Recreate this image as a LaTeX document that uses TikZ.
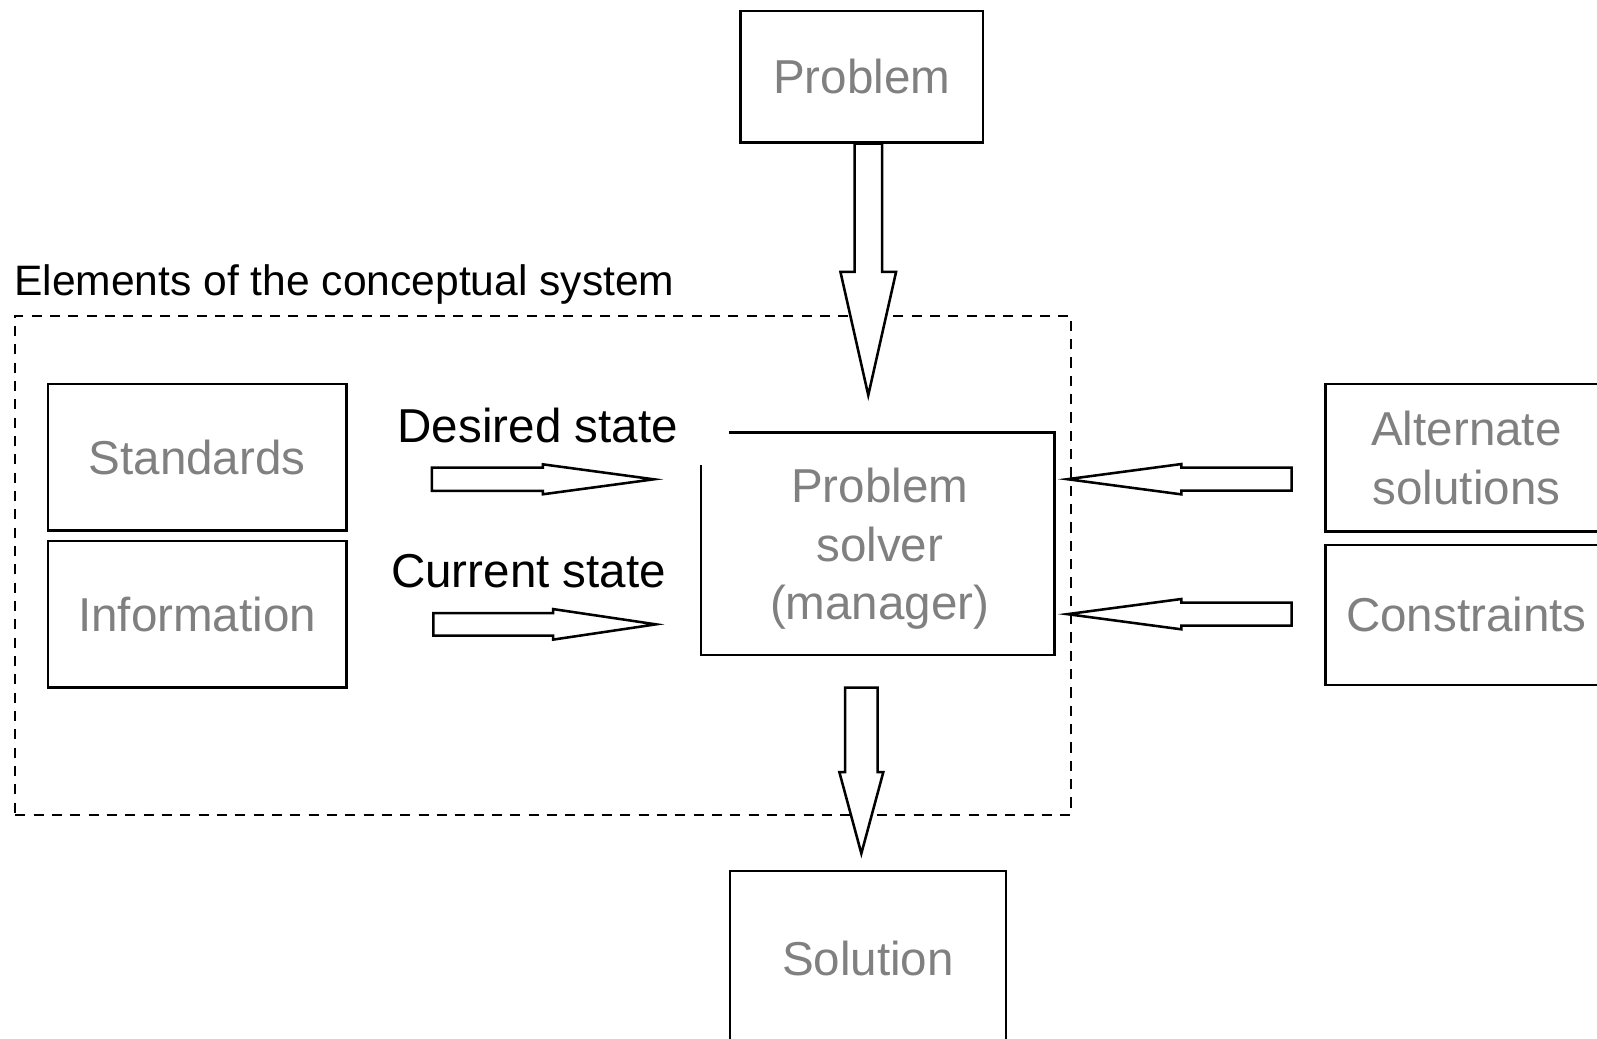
\documentclass[tikz,border=0pt]{standalone}
\usepackage{fontspec}
\setmainfont{Liberation Sans}
\usepackage{tikz}
\usetikzlibrary{positioning,calc}

\begin{document}
\begin{tikzpicture}[
    x=1pt, y=-1pt,
    every node/.style={font=\fontsize{46.7}{57.5}\selectfont, inner sep=0pt, outer sep=0pt},
    box/.style={draw, line width=2.5pt, text=gray, align=center},
    lbl/.style={text=black},
    frame/.style={draw, line width=2pt, dash pattern=on 10pt off 8pt},
    fat/.style n args={3}{draw, line width=2.5pt, fill=white,
      to path={($(\tikztostart)!#1!90:(\tikztotarget)$)
        -- ($($(\tikztotarget)!#3!(\tikztostart)$)!#1!90:(\tikztotarget)$)
        -- ($($(\tikztotarget)!#3!(\tikztostart)$)!#2!90:(\tikztotarget)$)
        -- (\tikztotarget)
        -- ($($(\tikztotarget)!#3!(\tikztostart)$)!#2!-90:(\tikztotarget)$)
        -- ($($(\tikztotarget)!#3!(\tikztostart)$)!#1!-90:(\tikztotarget)$)
        -- ($(\tikztostart)!#1!-90:(\tikztotarget)$) -- cycle}},
  ]
    \clip (0,0) rectangle (1568,1020);

    % --- System frame ---
    \node[frame, minimum width=1037pt, minimum height=490pt] (sys) at (533.5,555) {};
    \node[lbl, anchor=base west, font=\fontsize{41.8}{50}\selectfont]
      (syslbl) at ([xshift=-1pt, yshift=20pt]sys.north west) {Elements of the conceptual system};

    % --- Boxes ---
    \node[box, minimum width=238pt, minimum height=129pt]   (prob)   at (846,75.5) {Problem};
    \node[box, minimum width=293pt, minimum height=144pt]   (std)    at (193.5,449) {Standards};
    \node[box, minimum width=293pt, minimum height=144pt, below=10pt of std] (info) {Information};
    \node[minimum width=347pt, minimum height=218.6pt]      (solver) at (861.75,533.8) {};
    \node[box, draw=none] (solvertxt) at ([xshift=2pt, yshift=-5pt]solver.center) {Problem\\solver\\(manager)};
    \node[box, minimum width=276.4pt, minimum height=145pt] (alt)    at (1439.8,449.5) {Alternate\\solutions};
    \node[box, minimum width=276.4pt, minimum height=137.6pt, below=13pt of alt] (cons) {Constraints};
    \node[box, minimum width=271pt, minimum height=170.8pt] (sol)    at (852.2,940.6) {Solution};

    % solver border, open at the top left corner
    \draw[line width=2.5pt] ([xshift=27.5pt]solver.north west) -- (solver.north east)
      -- (solver.south east) -- (solver.south west) -- ([yshift=-32pt]solver.north west);

    % --- State labels ---
    \node[lbl] (desired) at (528,418) {Desired state};
    \node[lbl] (current) at (519,561) {Current state};

    % --- Arrow ends ---
    \coordinate (probS) at (852.5,141);
    \coordinate (probT) at (852.5,388);
    \coordinate (desS)  at (424,470.6);
    \coordinate (desT)  at (642,470.6);
    \coordinate (curS)  at (425.4,613);
    \coordinate (curT)  at (644,613);
    \coordinate (altS)  at (1268.2,470.5);
    \coordinate (altT)  at (1048,470.5);
    \coordinate (consS) at (1268.2,603);
    \coordinate (consT) at (1048,603);
    \coordinate (solS)  at (845.7,675.2);
    \coordinate (solT)  at (845.7,838);

    % --- Block arrows ---
    \draw[fat={13.5pt}{27.3pt}{121pt}] (probS) to (probT);
    \draw[fat={11.4pt}{14.7pt}{109pt}] (desS) to (desT);
    \draw[fat={11pt}{15pt}{101pt}]     (curS) to (curT);
    \draw[fat={11.3pt}{14.9pt}{112pt}] (altS) to (altT);
    \draw[fat={11.3pt}{14.9pt}{112pt}] (consS) to (consT);
    \draw[fat={16pt}{21.6pt}{80pt}]    (solS) to (solT);
  \end{tikzpicture}
\end{document}
